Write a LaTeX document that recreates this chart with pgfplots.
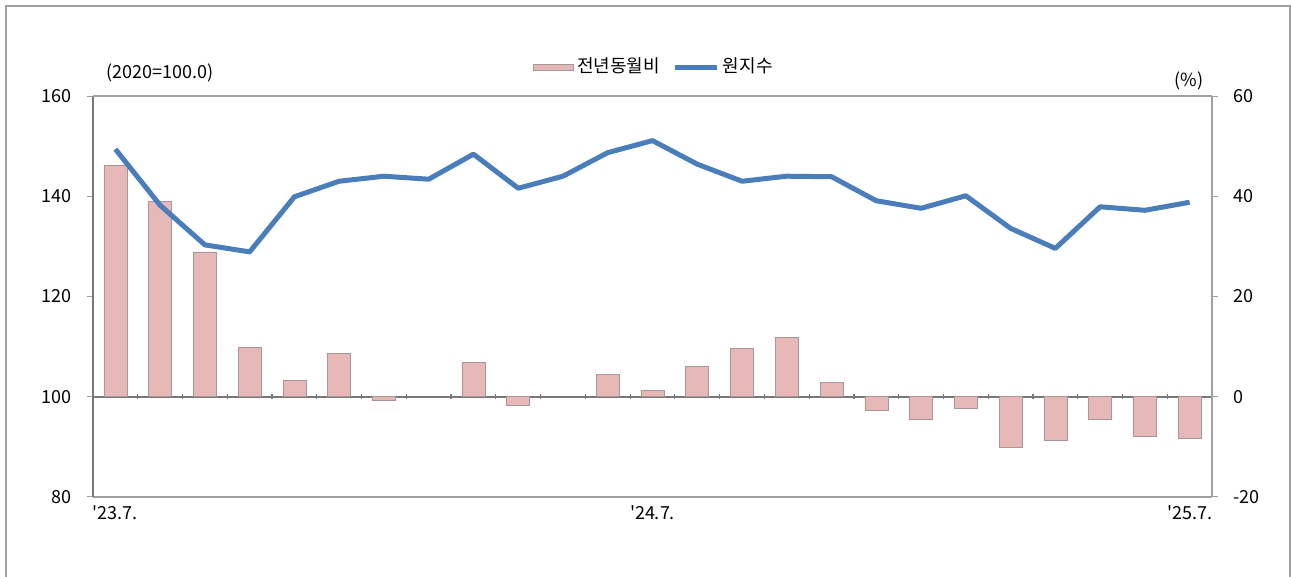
\documentclass[border=0pt]{standalone}
\usepackage{fontspec}
\setmainfont{Noto Sans CJK KR}
\usepackage{pgfplots}
\pgfplotsset{compat=1.18}
\definecolor{barfill}{RGB}{230,185,184}
\definecolor{baredge}{RGB}{170,150,150}
\definecolor{linecol}{RGB}{74,126,187}
\definecolor{axgray}{RGB}{160,160,160}
\definecolor{zgray}{RGB}{120,120,120}
\begin{document}
\begin{tikzpicture}[x=1pt,y=1pt,font=\fontsize{9}{10}\selectfont]
\useasboundingbox (0,0) rectangle (645.5,288.5);
\draw[axgray,line width=0.6pt] (3,0) -- (3,285.5) -- (645,285.5) -- (645,0);
% bars on the right axis
\begin{axis}[
  at={(46.5pt,40pt)}, anchor=south west,
  width=559.5pt, height=200.5pt, scale only axis,
  xmin=0.5, xmax=25.5, ymin=-20, ymax=60,
  axis y line*=right, axis x line*=middle,
  axis line style={-},
  x axis line style={zgray,line width=0.8pt},
  y axis line style={axgray,line width=0.6pt},
  xtick={1.5,2.5,...,24.5}, xticklabels={},
  xtick align=center, major x tick style={zgray,line width=0.6pt,yshift=1.25pt},
  xtick style={/pgfplots/major tick length=2.5pt},
  ytick={-20,0,20,40,60},
  ytick align=outside, major y tick style={axgray,line width=0.5pt},
  ytick style={/pgfplots/major tick length=3pt},
  yticklabel style={font=\fontsize{9}{10}\selectfont, xshift=3pt},
  /pgf/number format/assume math mode=true,
  ybar, bar width=11.5pt,
]
\addplot[fill=barfill, draw=baredge, line width=0.3pt] coordinates {
(1,46.1) (2,38.9) (3,28.9) (4,9.9) (5,3.3) (6,8.7) (7,-0.8)
(9,6.8) (10,-1.7) (12,4.5) (13,1.2) (14,6.0) (15,9.7) (16,11.8)
(17,2.9) (18,-2.7) (19,-4.5) (20,-2.3) (21,-10.1) (22,-8.6) (23,-4.5)
(24,-7.8) (25,-8.3)};
\end{axis}
% line on the left axis
\begin{axis}[
  at={(46.5pt,40pt)}, anchor=south west,
  width=559.5pt, height=200.5pt, scale only axis,
  xmin=0.5, xmax=25.5, ymin=80, ymax=160,
  axis y line*=left, axis x line*=bottom,
  axis line style={-},
  x axis line style={axgray,line width=0.6pt},
  y axis line style={zgray,line width=0.8pt},
  xtick={1,13,25},
  xticklabels={\textquotesingle23.7.,\textquotesingle24.7.,\textquotesingle25.7.},
  xtick style={draw=none},
  xticklabel style={font=\fontsize{9}{10}\selectfont, yshift=-1pt},
  ytick={80,100,...,160},
  ytick align=outside, major y tick style={axgray,line width=0.5pt},
  ytick style={/pgfplots/major tick length=3pt},
  yticklabel style={font=\fontsize{9}{10}\selectfont, xshift=-3pt},
  /pgf/number format/assume math mode=true,
  clip=false,
  legend style={at={(axis description cs:0.502,1)}, anchor=center, yshift=14.5pt,
    draw=none, fill=none, font=\fontsize{9}{10}\selectfont,
    /tikz/every even column/.append style={column sep=4pt},
    inner sep=0pt},
  legend columns=2,
]
\draw[axgray,line width=0.6pt] (rel axis cs:0,1) -- (rel axis cs:1,1);
\addlegendimage{legend image code/.code={\fill[barfill,draw=baredge,line width=0.2pt] (0pt,-1.5pt) rectangle (20pt,1.5pt);}}
\addlegendentry{전년동월비}
\addplot[linecol, line width=2.5pt, line join=round, mark=none,
  legend image code/.code={\draw[linecol,line width=2.5pt] (0pt,0pt) -- (21pt,0pt);}] coordinates {
(1,149.4) (2,138.2) (3,130.3) (4,128.9) (5,139.9) (6,143.0) (7,144.0) (8,143.4)
(9,148.4) (10,141.6) (11,144.0) (12,148.7) (13,151.1) (14,146.4) (15,143.0)
(16,144.0) (17,143.9) (18,139.1) (19,137.6) (20,140.1) (21,133.6) (22,129.6)
(23,137.9) (24,137.2) (25,138.8)};
\addlegendentry{원지수}
\node at (axis description cs:0.0598,1.0) [anchor=center, yshift=11.5pt] {(2020=100.0)};
\node at (axis description cs:0.9795,1.0) [anchor=center, yshift=7.5pt] {(\%)};
\end{axis}
\end{tikzpicture}
\end{document}
